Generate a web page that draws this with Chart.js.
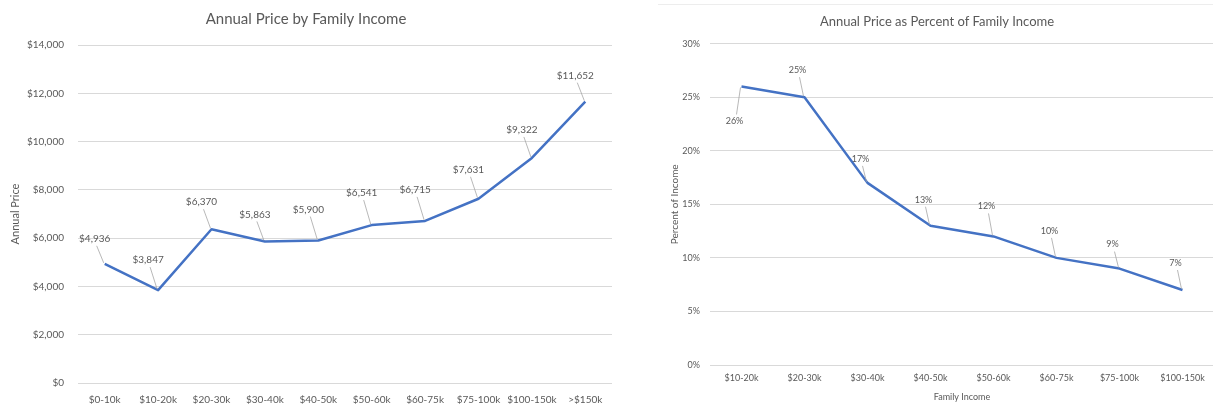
<!DOCTYPE html>
<html>
<head>
<meta charset="utf-8">
<script src="https://cdn.jsdelivr.net/npm/chart.js@4.4.1/dist/chart.umd.min.js"></script>
<style>
  html, body { margin: 0; padding: 0; background: #fff; width: 1213px; height: 407px; overflow: hidden; }
  #priceChart { position: absolute; left: 0; top: 0; }
  #shareChart { position: absolute; left: 620px; top: 0; }
  #shareFrame { position: absolute; left: 658px; top: 4px; width: 560px; border-top: 1px solid #ededed; }
</style>
</head>
<body>
<canvas id="priceChart" width="620" height="407"></canvas>
<div id="shareFrame"></div>
<canvas id="shareChart" width="640" height="407"></canvas>
<script>
// Annual price by family income bracket (dollars)
const priceCategories = ['$0-10k', '$10-20k', '$20-30k', '$30-40k', '$40-50k', '$50-60k', '$60-75k', '$75-100k', '$100-150k', '>$150k'];
const priceValues = [4936, 3847, 6370, 5863, 5900, 6541, 6715, 7631, 9322, 11652];

// Annual price as a share of family income (percent)
const shareCategories = ['$10-20k', '$20-30k', '$30-40k', '$40-50k', '$50-60k', '$60-75k', '$75-100k', '$100-150k'];
const shareValues = [26, 25, 17, 13, 12, 10, 9, 7];

const FONT = 'Lato, "Open Sans", sans-serif';
const TEXT = '#595959';
const GRID = '#d9d9d9';
const LINE = '#4472C4';

// Value labels with thin leader lines pointing at each point
const leaderLabels = {
  id: 'leaderLabels',
  afterDatasetsDraw(chart, args, opts) {
    const ctx = chart.ctx;
    const meta = chart.getDatasetMeta(0);
    const values = chart.data.datasets[0].data;
    ctx.save();
    ctx.font = opts.font;
    ctx.textAlign = 'center';
    ctx.textBaseline = 'middle';
    meta.data.forEach((pt, i) => {
      const rise = opts.rise[i];
      const lx = pt.x + opts.dx;
      const ly = pt.y - rise;
      const dir = rise > 0 ? 1 : -1;
      ctx.strokeStyle = '#a6a6a6';
      ctx.lineWidth = 0.8;
      ctx.beginPath();
      ctx.moveTo(lx + 2, ly + dir * 7);
      ctx.lineTo(pt.x - 1, pt.y - dir * 1);
      ctx.stroke();
      ctx.fillStyle = TEXT;
      ctx.fillText(opts.format(values[i]), lx, ly);
    });
    ctx.restore();
  }
};

const money = v => '$' + Number(v).toLocaleString('en-US');

new Chart(document.getElementById('priceChart'), {
  type: 'line',
  data: {
    labels: priceCategories,
    datasets: [{
      data: priceValues,
      borderColor: LINE,
      borderWidth: 2.5,
      borderJoinStyle: 'round',
      pointRadius: 0,
      tension: 0,
      fill: false
    }]
  },
  plugins: [leaderLabels],
  options: {
    responsive: false,
    animation: false,
    layout: { padding: { left: 0, right: 8, top: 0, bottom: 0 } },
    plugins: {
      legend: { display: false },
      tooltip: { enabled: false },
      title: {
        display: true,
        text: 'Annual Price by Family Income',
        color: TEXT,
        font: { family: FONT, size: 15, weight: 'normal' },
        padding: { top: 10, bottom: 17 }
      },
      leaderLabels: {
        font: '10px ' + FONT,
        dx: -10,
        rise: [25, 30, 27, 27, 31, 32, 31, 29, 28, 26],
        format: money
      }
    },
    scales: {
      x: {
        offset: true,
        grid: { display: false, drawTicks: false },
        border: { display: false },
        ticks: { color: TEXT, font: { family: FONT, size: 10 }, padding: 11, maxRotation: 0, autoSkip: false },
        afterFit(s) { s.height = 24; }
      },
      y: {
        min: 0,
        max: 14000,
        grid: { color: GRID, drawTicks: false },
        border: { display: false },
        ticks: { stepSize: 2000, color: TEXT, font: { family: FONT, size: 10 }, padding: 14, callback: money },
        title: {
          display: true,
          text: 'Annual Price',
          color: TEXT,
          font: { family: FONT, size: 11 },
          padding: { top: 9, bottom: 0 }
        },
        afterFit(s) { s.width = 78; }
      }
    }
  }
});

new Chart(document.getElementById('shareChart'), {
  type: 'line',
  data: {
    labels: shareCategories,
    datasets: [{
      data: shareValues,
      borderColor: LINE,
      borderWidth: 2.5,
      borderJoinStyle: 'round',
      pointRadius: 0,
      tension: 0,
      fill: false
    }]
  },
  plugins: [leaderLabels],
  options: {
    responsive: false,
    animation: false,
    layout: { padding: { left: 40, right: 46, top: 0, bottom: 0 } },
    plugins: {
      legend: { display: false },
      tooltip: { enabled: false },
      title: {
        display: true,
        text: 'Annual Price as Percent of Family Income',
        color: TEXT,
        font: { family: FONT, size: 13, weight: 'normal' },
        padding: { top: 14, bottom: 14 }
      },
      leaderLabels: {
        font: '9px ' + FONT,
        dx: -7,
        rise: [-35, 27, 24, 26, 30, 27, 24, 27],
        format: v => v + '%'
      }
    },
    scales: {
      x: {
        offset: true,
        grid: { display: false, drawTicks: false },
        border: { display: false },
        ticks: { color: TEXT, font: { family: FONT, size: 9 }, padding: 8, maxRotation: 0, autoSkip: false },
        title: {
          display: true,
          text: 'Family Income',
          color: TEXT,
          font: { family: FONT, size: 9 },
          padding: { top: 0, bottom: 5 }
        },
        afterFit(s) { s.height = 42; }
      },
      y: {
        min: 0,
        max: 30,
        grid: { color: GRID, drawTicks: false },
        border: { display: false },
        ticks: { stepSize: 5, color: TEXT, font: { family: FONT, size: 9 }, padding: 10, callback: v => v + '%' },
        title: {
          display: true,
          text: 'Percent of Income',
          color: TEXT,
          font: { family: FONT, size: 10 },
          padding: { top: 9, bottom: 0 }
        },
        afterFit(s) { s.width = 50; }
      }
    }
  }
});
</script>
</body>
</html>
